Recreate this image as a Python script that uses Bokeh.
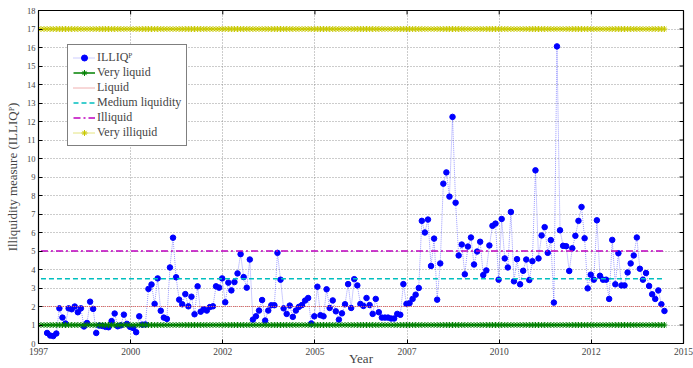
import pandas as pd
from bokeh.plotting import figure
from bokeh.models import (FixedTicker, Legend, LegendItem, Range1d, ColumnDataSource)
from bokeh.embed import file_html
from bokeh.resources import INLINE

# ---------------- data ----------------
illiq = [
    0.57, 0.43, 0.40, 0.54, 1.90, 1.40, 1.08, 1.90, 1.85, 2.00,
    1.69, 1.90, 0.92, 1.11, 2.26, 1.87, 0.57, 0.97, 0.95, 0.90,
    0.88, 1.21, 1.62, 0.93, 0.98, 1.56, 1.06, 0.90, 0.84, 0.61,
    1.47, 1.02, 1.03, 2.95, 3.19, 2.14, 3.52, 1.77, 1.40, 1.33,
    4.11, 5.72, 3.58, 2.37, 2.12, 2.67, 2.01, 2.53, 1.58, 3.09,
    1.72, 1.85, 1.78, 1.97, 2.01, 3.09, 3.02, 3.52, 2.23, 3.29,
    2.87, 3.32, 3.79, 4.83, 3.59, 3.02, 4.54, 1.29, 1.47, 1.78,
    2.35, 1.24, 1.78, 2.07, 2.07, 4.90, 3.45, 1.90, 1.60, 2.05,
    1.44, 1.78, 1.98, 2.08, 2.32, 2.46, 1.08, 1.47, 3.07, 1.53,
    1.47, 2.93, 1.92, 2.33, 1.74, 1.29, 1.63, 2.12, 3.21, 1.92,
    3.48, 3.14, 2.14, 2.03, 2.46, 2.08, 1.60, 2.41, 1.69, 1.40,
    1.40, 1.40, 1.35, 1.35, 1.60, 1.55, 3.21, 2.14, 2.18, 2.41,
    2.64, 3.00, 6.63, 6.00, 6.70, 4.19, 5.67, 2.37, 4.33, 8.64,
    9.25, 7.94, 12.25, 7.61, 4.76, 5.35, 3.74, 5.24, 5.73, 4.27,
    4.97, 5.50, 3.70, 3.95, 5.30, 6.36, 6.48, 3.45, 6.73, 4.60,
    4.11, 7.11, 3.36, 4.56, 3.20, 3.93, 4.54, 3.43, 4.45, 9.36,
    4.60, 5.84, 6.29, 4.90, 5.59, 2.21, 16.06, 6.12, 5.28, 5.26,
    3.92, 5.15, 5.82, 6.63, 7.38, 5.69, 2.98, 3.72, 3.45, 6.66,
    3.66, 3.45, 3.45, 2.41, 5.60, 3.20, 4.88, 3.14, 3.14, 3.84,
    4.33, 4.76, 5.73, 4.04, 3.45, 3.81, 3.11, 2.66, 2.41, 2.87,
    2.12, 1.76,
]
first_month = "1997-11"
ref_first_month = "1997-09"
ref_last_month = "2014-08"

level_names = ["Very liquid", "Liquid", "Medium liquidity", "Illiquid", "Very illiquid"]
level_values = [1.0, 2.0, 3.5, 5.0, 17.0]

x_tick_pos = [1997.6, 2000.1, 2002.6, 2005.1, 2007.6, 2010.1, 2012.6, 2015.1]
x_tick_labels = ["1997", "2000", "2002", "2005", "2007", "2010", "2012", "2015"]
y_ticks = list(range(0, 19))

# ---------------- derived ----------------
dates = pd.date_range(first_month, periods=len(illiq), freq="MS")
t = list(dates.year + (dates.month - 1) / 12.0)
ref_dates = pd.date_range(ref_first_month, ref_last_month, freq="MS")
ref_t = list(ref_dates.year + (ref_dates.month - 1) / 12.0)

FONT = "Liberation Serif"
X0, X1, Y0, Y1 = x_tick_pos[0], x_tick_pos[-1], 0, 18

p = figure(width=693, height=368, output_backend="svg", toolbar_location=None,
           x_range=Range1d(X0, X1), y_range=Range1d(Y0, Y1),
           min_border_left=38, min_border_right=10, min_border_top=10, min_border_bottom=24)
p.background_fill_color = "white"
p.border_fill_color = "white"
p.outline_line_color = "black"
p.outline_line_width = 1.2

# axes
p.xaxis.ticker = FixedTicker(ticks=x_tick_pos)
p.xaxis.major_label_overrides = {v: s for v, s in zip(x_tick_pos, x_tick_labels)}
p.yaxis.ticker = FixedTicker(ticks=y_ticks)
for ax in (p.xaxis[0], p.yaxis[0]):
    ax.major_tick_in = 4
    ax.major_tick_out = 0
    ax.minor_tick_line_color = None
    ax.axis_line_color = "black"
    ax.major_tick_line_color = "black"
    ax.major_label_text_font = FONT
p.xaxis.major_label_standoff = 4
p.yaxis.major_label_standoff = 3
p.xaxis.major_label_text_font_size = "9.5px"
p.yaxis.major_label_text_font_size = "8.5px"
p.yaxis.axis_label = "Illiquidity measure (ILLIQ\u1d3e)"
p.yaxis.axis_label_text_font = FONT
p.yaxis.axis_label_text_font_size = "13px"
p.yaxis.axis_label_text_font_style = "normal"
p.yaxis.axis_label_standoff = 4
p.xaxis.axis_label = "Year"
p.xaxis.axis_label_text_font = FONT
p.xaxis.axis_label_text_font_size = "13px"
p.xaxis.axis_label_text_font_style = "normal"
p.xaxis.axis_label_standoff = -7
p.xaxis.axis_label_text_line_height = 0.9
p.xaxis.major_label_text_line_height = 0.9

# grid
for g in (p.xgrid[0], p.ygrid[0]):
    g.grid_line_color = "#808080"
    g.grid_line_dash = "1 2"
    g.grid_line_width = 1
    g.grid_line_alpha = 0.8

# inward ticks on the top and right edges of the box
tick_len_y = 4 * (Y1 - Y0) / 334.0
tick_len_x = 4 * (X1 - X0) / 645.0
p.segment(x0=x_tick_pos, y0=[Y1] * len(x_tick_pos), x1=x_tick_pos,
          y1=[Y1 - tick_len_y] * len(x_tick_pos), line_color="black", line_width=1)
p.segment(x0=[X1] * len(y_ticks), y0=y_ticks, x1=[X1 - tick_len_x] * len(y_ticks),
          y1=y_ticks, line_color="black", line_width=1)

# ILLIQ series
src = ColumnDataSource(dict(t=t, v=illiq))
l_ill = p.line("t", "v", source=src, line_color="#0000ff", line_alpha=0.4,
               line_width=1, line_dash="1 1")
s_ill = p.scatter("t", "v", source=src, size=5.5, fill_color="#0000ff",
                  line_color="#0000ff", marker="circle")

# reference levels
styles = {
    "Very liquid": dict(color="#008000", dash="solid", width=1.5, marker=True),
    "Liquid": dict(color="#e06060", dash="1 1", width=1, marker=False),
    "Medium liquidity": dict(color="#00bfbf", dash="5 3", width=1.3, marker=False),
    "Illiquid": dict(color="#bf00bf", dash="7 3 2 3", width=1.3, marker=False),
    "Very illiquid": dict(color="#c8c800", dash="1 1", width=1, marker=True),
}
items = [LegendItem(label="ILLIQ\u1d3e", renderers=[l_ill, s_ill])]
for name, val in zip(level_names, level_values):
    st = styles[name]
    rsrc = ColumnDataSource(dict(t=ref_t, v=[val] * len(ref_t)))
    rl = p.line("t", "v", source=rsrc, line_color=st["color"], line_width=st["width"],
                line_dash=st["dash"])
    rends = [rl]
    if st["marker"]:
        rm = p.scatter("t", "v", source=rsrc, marker="asterisk", size=6,
                       line_color=st["color"], line_width=1)
        rends.append(rm)
    items.append(LegendItem(label=name, renderers=rends))

legend = Legend(items=items, location=(29, 197), label_text_font=FONT,
                label_text_font_size="12px", glyph_width=22, glyph_height=15,
                label_height=15, spacing=0, padding=5, margin=0, label_standoff=2,
                border_line_color="black", border_line_width=1.2,
                background_fill_color="white", background_fill_alpha=1)
p.add_layout(legend)

open("out.html", "w").write(file_html(p, INLINE))
